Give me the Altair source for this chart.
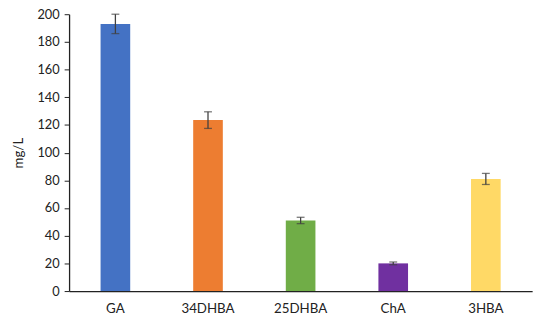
import altair as alt
import pandas as pd

categories = ["GA", "34DHBA", "25DHBA", "ChA", "3HBA"]
values = [193.0, 123.5, 51.0, 20.0, 81.0]
errors = [7.0, 6.0, 2.3, 1.0, 4.0]
colors = ["#4472C4", "#ED7D31", "#70AD47", "#7030A0", "#FFD966"]

df = pd.DataFrame({"cat": categories, "val": values, "err": errors})
df["lo"] = df["val"] - df["err"]
df["hi"] = df["val"] + df["err"]

FONT = "Lato"

x = alt.X("cat:N", sort=categories, title=None,
          scale=alt.Scale(paddingInner=0.68, paddingOuter=0.34),
          axis=alt.Axis(labelAngle=0, ticks=False, labelPadding=11, labelFontSize=13.5,
                        labelFont=FONT, labelColor="#222", domainColor="#222", domainWidth=1.3))

y_axis = alt.Axis(values=list(range(0, 201, 20)), grid=False, tickSize=5,
                  labelOverlap=False, labelFlush=False,
                  labelFontSize=13, labelFont=FONT, labelColor="#222", labelPadding=5,
                  tickColor="#222", domainColor="#222", domainWidth=1.3,
                  titleFont=FONT, titleFontSize=13.5, titleFontWeight="normal",
                  titleColor="#222", titlePadding=12)
y_scale = alt.Scale(domain=[0, 200], nice=False)

def Y(field):
    return alt.Y(field, title="mg/L", scale=y_scale, axis=y_axis)

bars = alt.Chart(df).mark_bar().encode(
    x=x,
    y=Y("val:Q"),
    color=alt.Color("cat:N", sort=categories, scale=alt.Scale(domain=categories, range=colors), legend=None),
)

rules = alt.Chart(df).mark_rule(color="#404040", strokeWidth=1.3).encode(
    x=x, y=Y("lo:Q"), y2="hi:Q")
caps_hi = alt.Chart(df).mark_tick(color="#404040", thickness=1.3, size=8, orient="horizontal").encode(
    x=x, y=Y("hi:Q"))
caps_lo = alt.Chart(df).mark_tick(color="#404040", thickness=1.3, size=8, orient="horizontal").encode(
    x=x, y=Y("lo:Q"))

chart = alt.layer(bars, rules, caps_hi, caps_lo).properties(
    width=470, height=281,
    autosize=alt.AutoSizeParams(type="none"),
    padding={"left": 62, "top": 4, "right": 10, "bottom": 23},
).configure_view(stroke=None)

chart.save("out.html", embed_options={"renderer": "svg", "actions": False})
